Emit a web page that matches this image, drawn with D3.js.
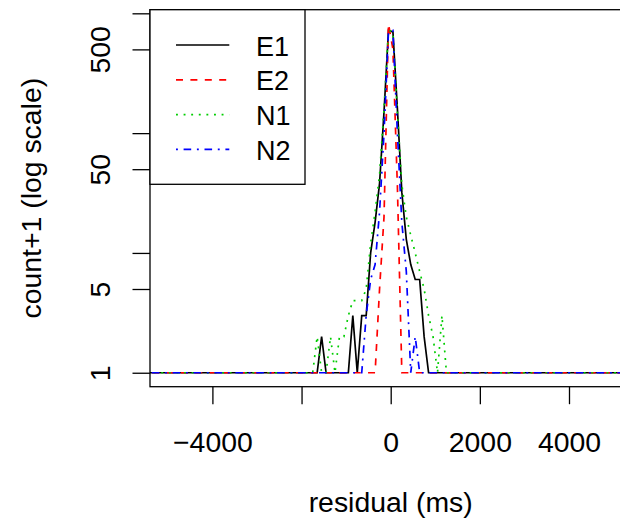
<!DOCTYPE html>
<html>
<head>
<meta charset="utf-8">
<script src="https://cdn.jsdelivr.net/npm/d3@7"></script>
<style>
  body { margin: 0; background: #fff; }
  svg { display: block; font-family: "Liberation Sans", Arial, Helvetica, sans-serif; }
</style>
</head>
<body>
<div id="chart"></div>
<script>
"use strict";

// histogram bin midpoints (ms), 100 ms bins
var bins = [-1750, -1650, -1550, -1450, -1350, -1250, -1150, -1050, -950, -850,
            -750, -650, -550, -450, -350, -250, -150, -50, 50, 150,
            250, 350, 450, 550, 650, 750, 850, 950, 1050, 1150, 1250, 1350];

// count+1 per bin
var e1 = [1, 1, 2, 1, 1, 1, 1, 1, 1, 3,
          1, 3, 3, 10, 18, 38, 150, 720, 700, 160,
          32, 13, 8, 6, 6, 2, 1, 1, 1, 1, 1, 1];
var e2 = [1, 1, 1, 1, 1, 1, 1, 1, 1, 1,
          1, 1, 1, 1, 1, 5, 20, 820, 500, 36,
          1, 1, 1, 1, 1, 1, 1, 1, 1, 1, 1, 1];
var n1 = [1, 2, 1, 1, 2, 1, 2, 2, 3, 4,
          4, 4, 5, 12, 22, 45, 160, 720, 700, 150,
          37, 20, 14, 10, 7, 5, 3, 2, 1, 3, 1, 1];
var n2 = [1, 1, 1, 1, 1, 1, 1, 1, 1, 1,
          1, 1, 3, 6, 8, 22, 100, 700, 720, 100,
          18, 7, 1, 2, 1, 1, 1, 1, 1, 1, 1, 1];

var seriesNames = ["E1", "E2", "N1", "N2"];
var seriesValues = [e1, e2, n1, n2];
var seriesColors = ["#000000", "#ff0000", "#00cd00", "#0000ff"];
var seriesDash = [null, "7,7.4", "1.9,5.7", "1.9,5.7,7.6,5.7"];

// empty bins continue out to here
var histRange = [-6000, 6000];

var xTicks = [-4000, -2000, 0, 2000, 4000];
var xTickLabels = ["\u22124000", "", "0", "2000", "4000"];
var yTicks = [1, 5, 10, 50, 100, 500, 1000];
var yTickLabels = ["1", "5", "", "50", "", "500", ""];

var xLimits = [-5400, 5400];
var yLimits = [0.7647, 1072];

var W = 620, H = 529;
var margin = { top: 9.7, left: 150 },
    width = 481.4,
    height = 377;
var axisFont = 28.4, legendFont = 27;
var lwd = 1.7;

var svg = d3.select("#chart").append("svg")
  .attr("width", W)
  .attr("height", H);

var g = svg.append("g")
  .attr("transform", "translate(" + margin.left + "," + margin.top + ")");

var x = d3.scaleLinear().domain(xLimits).range([0, width]);
var y = d3.scaleLog().domain(yLimits).range([height, 0]);

g.append("clipPath").attr("id", "plotclip")
  .append("rect").attr("width", width).attr("height", height);

var line = d3.line()
  .x(function (d) { return x(d[0]); })
  .y(function (d) { return y(d[1]); });

seriesValues.forEach(function (vals, i) {
  var pts = [[histRange[0], 1]];
  bins.forEach(function (b, j) { pts.push([b, vals[j]]); });
  pts.push([histRange[1], 1]);
  g.append("path")
    .datum(pts)
    .attr("clip-path", "url(#plotclip)")
    .attr("fill", "none")
    .attr("stroke", seriesColors[i])
    .attr("stroke-width", lwd)
    .attr("stroke-dasharray", seriesDash[i])
    .attr("d", line);
});

// axes, R style
var xAxis = d3.axisBottom(x).tickValues(xTicks)
  .tickFormat(function (d, i) { return xTickLabels[i]; })
  .tickSizeInner(17.5).tickSizeOuter(0);
var gx = g.append("g").attr("transform", "translate(0," + height + ")").call(xAxis);
gx.select(".domain").remove();
gx.selectAll("line").attr("stroke", "#000").attr("stroke-width", 1.3);
gx.selectAll("text")
  .attr("y", 65.3).attr("dy", null)
  .style("font-size", axisFont + "px").attr("fill", "#000")
  .style("font-family", "inherit");

var yAxis = d3.axisLeft(y).tickValues(yTicks)
  .tickFormat(function (d, i) { return yTickLabels[i]; })
  .tickSizeInner(17.5).tickSizeOuter(0);
var gy = g.append("g").call(yAxis);
gy.select(".domain").remove();
gy.selectAll("line").attr("stroke", "#000").attr("stroke-width", 1.3);
gy.selectAll("text")
  .attr("x", null).attr("dy", null)
  .attr("text-anchor", "middle")
  .attr("transform", "translate(-40,0) rotate(-90)")
  .style("font-size", axisFont + "px").attr("fill", "#000")
  .style("font-family", "inherit");

// box
g.append("rect")
  .attr("width", width).attr("height", height)
  .attr("fill", "none").attr("stroke", "#000").attr("stroke-width", 1.3);

// axis titles
svg.append("text")
  .attr("x", margin.left + width / 2).attr("y", 512)
  .attr("text-anchor", "middle")
  .style("font-size", axisFont + "px")
  .text("residual (ms)");

svg.append("text")
  .attr("transform", "translate(41," + (margin.top + height / 2) + ") rotate(-90)")
  .attr("text-anchor", "middle")
  .style("font-size", axisFont + "px")
  .text("count+1 (log scale)");

// legend
var legend = g.append("g");
legend.append("rect")
  .attr("x", 0).attr("y", 0)
  .attr("width", 155).attr("height", 174.6)
  .attr("fill", "#fff").attr("stroke", "#000").attr("stroke-width", 1.3);

var item = legend.selectAll(".item")
  .data(seriesNames)
  .enter().append("g")
  .attr("class", "item")
  .attr("transform", function (d, i) { return "translate(0," + (35.3 + i * 34.8) + ")"; });

item.append("line")
  .attr("x1", 26).attr("x2", 79.3)
  .attr("stroke", function (d, i) { return seriesColors[i]; })
  .attr("stroke-width", lwd)
  .attr("stroke-dasharray", function (d, i) { return seriesDash[i]; });

item.append("text")
  .attr("x", 106).attr("y", 10.5)
  .style("font-size", legendFont + "px")
  .text(function (d) { return d; });
</script>
</body>
</html>
